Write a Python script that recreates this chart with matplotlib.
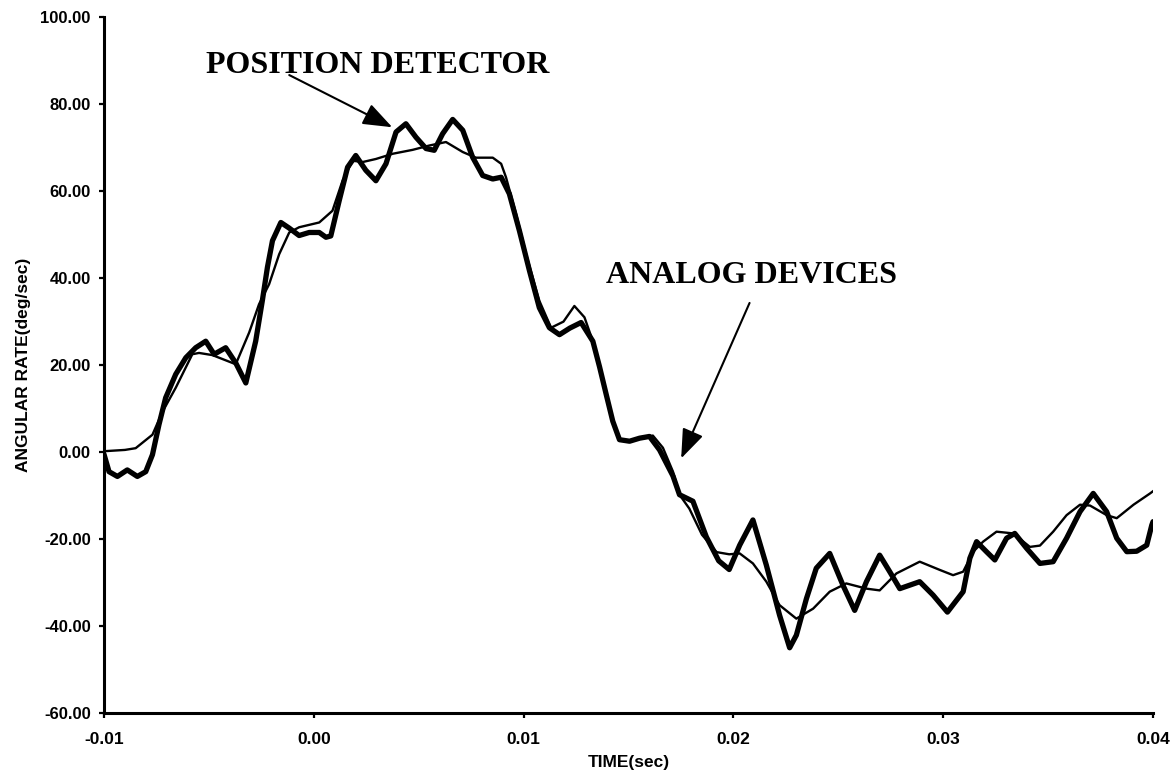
import matplotlib.pyplot as plt
import numpy as np
from matplotlib.ticker import FormatStrFormatter

# time in ms, rate in deg/sec
t_pos_ms = [-10.0, -9.76, -9.36, -8.89, -8.41, -8.01, -7.69, -7.38, -7.06, -6.58,
            -6.10, -5.63, -5.15, -4.75, -4.20, -3.72, -3.24, -2.77, -2.45, -2.21,
            -1.97, -1.57, -1.17, -0.70, -0.22, 0.26, 0.58, 0.81, 1.21, 1.61,
            2.00, 2.48, 2.96, 3.44, 3.92, 4.39, 4.87, 5.35, 5.74, 6.14,
            6.62, 7.10, 7.57, 8.05, 8.53, 8.93, 9.32, 9.80, 10.28, 10.75,
            11.23, 11.71, 12.20, 12.74, 13.30, 13.62, 13.94, 14.25, 14.57, 15.05,
            15.53, 16.00, 16.48, 17.12, 17.43, 18.07, 18.71, 19.30, 19.80, 20.30,
            20.93, 21.57, 22.20, 22.68, 23.00, 23.48, 23.95, 24.59, 25.22, 25.78,
            26.34, 26.97, 27.45, 27.93, 28.88, 29.52, 30.20, 30.95, 31.27, 31.59,
            32.06, 32.46, 33.02, 33.41, 33.97, 34.61, 35.24, 35.88, 36.52, 37.15,
            37.79, 38.27, 38.75, 39.22, 39.70, 39.94, 40.0]
rate_pos = [-0.5, -4.5, -5.6, -4.1, -5.6, -4.5, -0.6, 6.3, 12.5, 17.9,
            21.7, 24.0, 25.5, 22.5, 24.0, 20.5, 15.9, 25.5, 34.9, 42.5,
            48.6, 52.8, 51.5, 49.8, 50.5, 50.5, 49.4, 49.7, 57.8, 65.5,
            68.2, 64.8, 62.4, 66.3, 73.6, 75.5, 72.4, 69.8, 69.4, 73.2,
            76.5, 74.0, 67.8, 63.6, 62.8, 63.2, 59.4, 50.9, 41.7, 33.2,
            28.6, 27.0, 28.5, 29.8, 25.5, 19.6, 13.2, 7.1, 2.85, 2.5,
            3.2, 3.6, 0.5, -5.5, -9.8, -11.3, -19.5, -25.0, -27.0, -21.4,
            -15.6, -26.0, -37.5, -45.0, -42.1, -33.7, -26.7, -23.3, -30.6, -36.4,
            -29.8, -23.7, -27.5, -31.4, -29.8, -32.9, -36.8, -32.1, -24.4, -20.6,
            -22.9, -24.8, -19.8, -18.7, -22.1, -25.6, -25.2, -19.8, -13.7, -9.5,
            -13.7, -19.8, -22.9, -22.8, -21.4, -16.8, -16.0]

t_ad_ms = [-10.0, -9.0, -8.49, -7.69, -7.22, -6.58, -5.79, -5.47, -4.83, -3.72,
           -3.08, -2.61, -2.13, -1.65, -1.17, -0.70, 0.26, 0.89, 1.37, 1.85,
           2.33, 2.96, 3.76, 4.71, 5.51, 6.30, 7.10, 7.73, 8.53, 8.93,
           9.16, 9.64, 10.12, 10.75, 11.31, 11.90, 12.42, 12.90, 13.30, 13.62,
           13.94, 14.25, 14.57, 15.05, 15.53, 16.16, 16.64, 17.12, 17.43, 17.90,
           18.50, 19.20, 19.80, 20.30, 20.93, 21.57, 22.20, 23.00, 23.80, 24.59,
           25.38, 26.34, 26.97, 27.77, 28.88, 29.84, 30.47, 30.95, 31.43, 31.90,
           32.54, 33.34, 34.13, 34.61, 35.24, 35.88, 36.52, 37.00, 37.79, 38.27,
           39.07, 39.86, 40.0]
rate_ad = [0.2, 0.5, 0.9, 4.0, 9.2, 14.8, 22.5, 22.8, 22.3, 20.2,
           27.5, 34.0, 38.6, 45.5, 50.5, 51.7, 52.8, 55.5, 62.4, 67.0,
           66.7, 67.4, 68.6, 69.5, 70.5, 71.3, 69.0, 67.7, 67.7, 66.3,
           63.2, 54.8, 45.5, 34.8, 28.6, 30.0, 33.6, 31.0, 25.5, 19.6,
           13.2, 7.1, 2.85, 2.5, 3.2, 3.8, 1.0, -4.5, -9.8, -13.0,
           -19.0, -23.0, -23.5, -23.3, -25.6, -29.8, -35.2, -38.3, -36.0, -32.1,
           -30.2, -31.4, -31.8, -27.9, -25.2, -27.1, -28.3, -27.5, -22.9, -20.6,
           -18.3, -18.7, -21.8, -21.5, -18.3, -14.5, -12.1, -12.3, -14.5, -15.2,
           -12.1, -9.5, -9.0]

x_ticks = [-0.01, 0.00, 0.01, 0.02, 0.03, 0.04]
y_ticks = [-60, -40, -20, 0, 20, 40, 60, 80, 100]

t_pos = np.array(t_pos_ms) / 1000.0
t_ad = np.array(t_ad_ms) / 1000.0

fig = plt.figure(figsize=(11.75, 7.79), dpi=100)
ax = fig.add_axes([0.0885, 0.0847, 0.8928, 0.8932])

ax.plot(t_pos, rate_pos, color='black', lw=3.8, solid_joinstyle='round', solid_capstyle='round')
ax.plot(t_ad, rate_ad, color='black', lw=1.7, solid_joinstyle='round')

ax.set_xlim(-0.01, 0.04)
ax.set_ylim(-60, 100)
ax.set_xticks(x_ticks)
ax.set_yticks(y_ticks)
ax.xaxis.set_major_formatter(FormatStrFormatter('%.2f'))
ax.yaxis.set_major_formatter(FormatStrFormatter('%.2f'))

for s in ['top', 'right']:
    ax.spines[s].set_visible(False)
for s in ['left', 'bottom']:
    ax.spines[s].set_linewidth(2.2)

xfont = dict(family='Liberation Sans', weight='bold', size=12.5)
yfont = dict(family='Liberation Sans', weight='bold', size=12)
ax.tick_params(axis='both', direction='out', length=3.6, width=1.6)
ax.tick_params(axis='x', pad=10)
ax.tick_params(axis='y', pad=6)
for lab in ax.get_xticklabels():
    lab.set_fontproperties(xfont)
for lab in ax.get_yticklabels():
    lab.set_fontproperties(yfont)

ax.set_xlabel('TIME(sec)', fontdict=xfont, labelpad=6)
ax.set_ylabel('ANGULAR RATE(deg/sec)', fontdict=xfont, labelpad=7)

serif = dict(family='Liberation Serif', weight='bold', size=23)
ax.text(-0.00513, 87.1, 'POSITION DETECTOR', fontdict=serif, ha='left', va='baseline')
ax.text(0.01395, 38.9, 'ANALOG DEVICES', fontdict=serif, ha='left', va='baseline')

arrow = dict(arrowstyle='-|>,head_length=1.2,head_width=0.45', color='black',
             lw=1.5, mutation_scale=15, shrinkA=0, shrinkB=0)
ax.annotate('', xy=(0.00374, 74.7), xytext=(-0.00117, 86.7), arrowprops=arrow)
ax.annotate('', xy=(0.01751, -1.45), xytext=(0.02077, 34.3), arrowprops=arrow)

plt.savefig('out.png', dpi=100)
